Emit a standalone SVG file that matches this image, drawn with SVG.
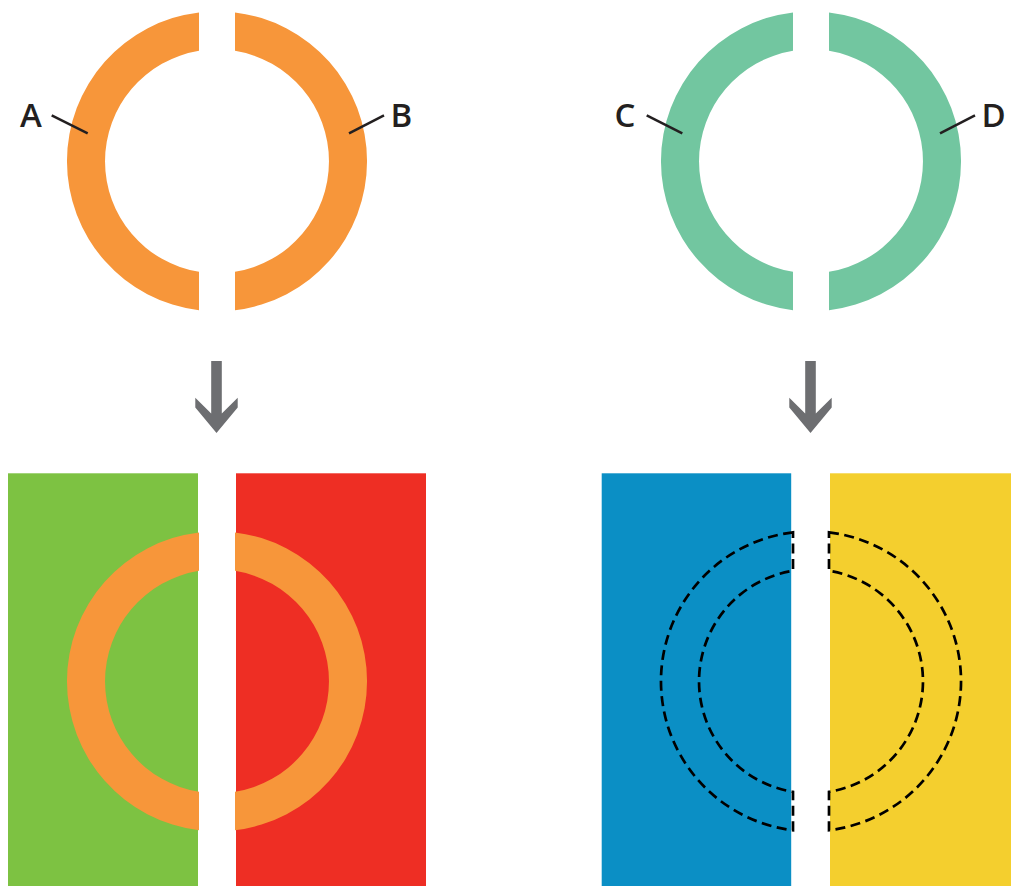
<svg xmlns="http://www.w3.org/2000/svg" xmlns:xlink="http://www.w3.org/1999/xlink" width="1011" height="886" viewBox="0 0 1011 886">
<style>
.lbl{font-family:"Open Sans","Noto Sans","Liberation Sans",sans-serif;font-weight:600;font-size:33px;fill:#231f20;text-anchor:middle}
.lead{stroke:#231f20;stroke-width:2.5;fill:none}
.orange{fill:#f7963a}
.teal{fill:#72c6a0}
.dash{fill:none;stroke:#000;stroke-width:2.7;stroke-dasharray:10 5.5}
.arrow{fill:#6d6e71}
</style>
<defs>
<path id="segL" d="M 199 12.38 A 150 150 0 0 0 199 310.22 L 199 271.84 A 112 112 0 0 1 199 50.76 Z"/>
<path id="segR" d="M 235 12.38 A 150 150 0 0 1 235 310.22 L 235 271.84 A 112 112 0 0 0 235 50.76 Z"/>
<path id="arr" d="M -5.3 361 L 5.3 361 L 5.3 413.6 L 21.2 397.7 L 21.2 407.5 L 0 433 L -21.2 407.5 L -21.2 397.7 L -5.3 413.6 Z"/>
</defs>
<g id="backgrounds">
<rect x="8" y="473.3" width="190" height="412.7" fill="#7dc242"/>
<rect x="236" y="473.3" width="190" height="412.7" fill="#ee2e24"/>
<rect x="601.7" y="473.3" width="189.5" height="412.7" fill="#0b8fc5"/>
<rect x="830" y="473.3" width="181" height="412.7" fill="#f4cf2e"/>
</g>
<g id="ring-AB">
<use xlink:href="#segL" class="orange"/>
<use xlink:href="#segR" class="orange"/>
</g>
<g id="ring-CD" transform="translate(594,0)">
<use xlink:href="#segL" class="teal"/>
<use xlink:href="#segR" class="teal"/>
</g>
<g id="ring-AB-placed" transform="translate(0,520)">
<use xlink:href="#segL" class="orange"/>
<use xlink:href="#segR" class="orange"/>
</g>
<g id="ring-CD-outline" transform="translate(594,520)">
<use xlink:href="#segL" class="dash"/>
<use xlink:href="#segR" class="dash"/>
</g>
<g id="labels">
<text class="lbl" x="31" y="127">A</text>
<text class="lbl" x="401.5" y="127">B</text>
<text class="lbl" x="625" y="127">C</text>
<text class="lbl" x="993.7" y="127">D</text>
</g>
<g id="connectors">
<line class="lead" x1="51.7" y1="115.3" x2="87.7" y2="133.3"/>
<line class="lead" x1="384" y1="115.3" x2="349" y2="133.3"/>
<line class="lead" x1="646.7" y1="115.3" x2="682.3" y2="133.3"/>
<line class="lead" x1="975" y1="115.3" x2="940" y2="133.3"/>
<use xlink:href="#arr" class="arrow" transform="translate(216.5,0)"/>
<use xlink:href="#arr" class="arrow" transform="translate(810.5,0)"/>
</g>
</svg>
